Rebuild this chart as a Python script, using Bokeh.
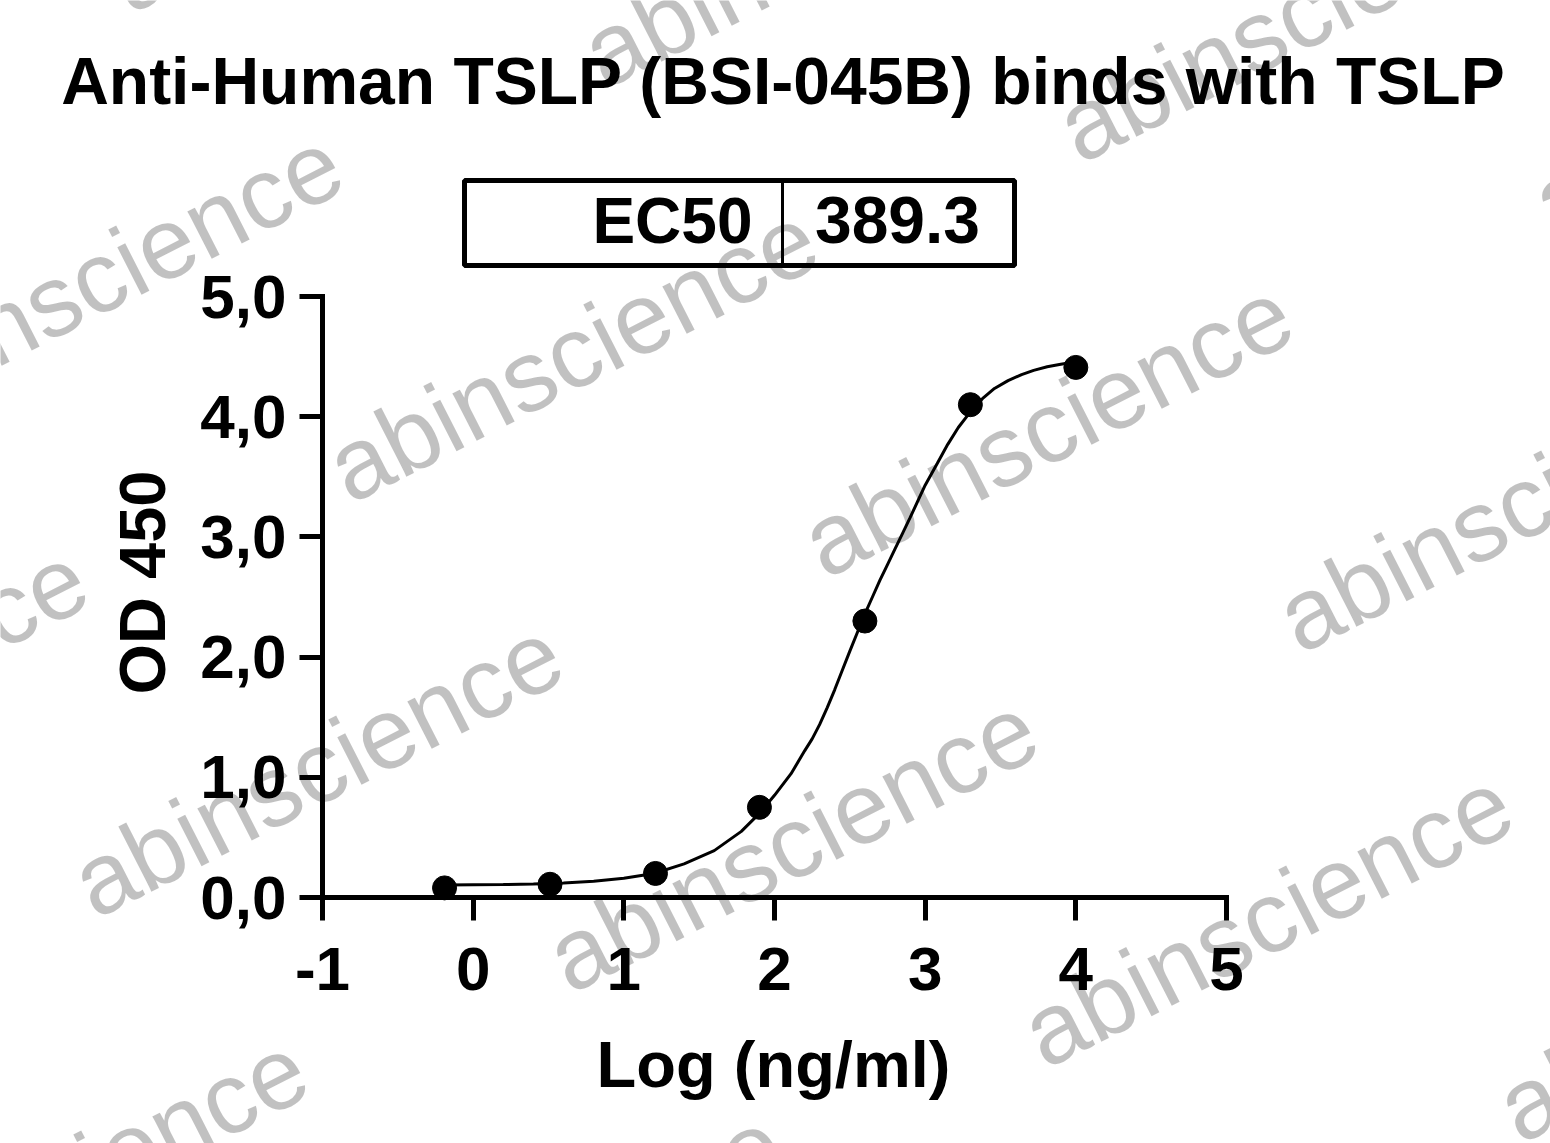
import math
from bokeh.plotting import figure
from bokeh.models import Label, FixedTicker, Range1d
from bokeh.embed import file_html
from bokeh.resources import INLINE

# ---------------- data ----------------
title_text = "Anti-Human TSLP (BSI-045B) binds with TSLP"
x_label = "Log (ng/ml)"
y_label = "OD 450"
ec50_label = "EC50"
ec50_value = "389.3"
watermark_text = "abinscience"

x_ticks = [-1, 0, 1, 2, 3, 4, 5]
x_tick_labels = ["-1", "0", "1", "2", "3", "4", "5"]
y_ticks = [0, 1, 2, 3, 4, 5]
y_tick_labels = ["0,0", "1,0", "2,0", "3,0", "4,0", "5,0"]

log_conc = [-0.19, 0.51, 1.21, 1.90, 2.60, 3.30, 4.00]
od450 = [0.08, 0.11, 0.20, 0.75, 2.30, 4.10, 4.41]

fit_x = [-0.19, 0.0, 0.2, 0.4, 0.6, 0.8, 1.0, 1.2, 1.4, 1.6, 1.78, 1.9, 2.0,
         2.11, 2.2, 2.25, 2.3, 2.35, 2.4, 2.45, 2.5, 2.55, 2.6, 2.65, 2.7,
         2.75, 2.8, 2.85, 2.9, 2.95, 3.0, 3.08, 3.15, 3.22, 3.30, 3.38, 3.46,
         3.55, 3.64, 3.72, 3.81, 3.90, 3.99]
fit_y = [0.104, 0.106, 0.108, 0.112, 0.12, 0.135, 0.16, 0.20, 0.28, 0.39,
         0.55, 0.70, 0.85, 1.03, 1.22, 1.32, 1.44, 1.58, 1.73, 1.89, 2.05,
         2.205, 2.36, 2.50, 2.64, 2.77, 2.90, 3.03, 3.16, 3.295, 3.43, 3.61,
         3.77, 3.91, 4.04, 4.15, 4.235, 4.30, 4.35, 4.385, 4.415, 4.437,
         4.455]

# ---------------- layout ----------------
W, H = 1550, 1143
AX_L, AX_R, AX_B = 322, 1226, 897      # px of x=-1, x=5, y=0
X0, X1 = -1.0, 5.0
PPX = (AX_R - AX_L) / (X1 - X0)
PPY = (897 - 296) / 5.0
BASE = 0.35                             # baseline correction (em)


def dx(px):
    return X0 + (px - AX_L) / PPX


def dy(py):
    return (AX_B - py) / PPY


FONT = "Liberation Sans"

# the frame spans the whole canvas; the axes sit at fixed data locations
p = figure(width=W, height=H,
           x_range=Range1d(dx(0), dx(W)), y_range=Range1d(dy(H), dy(0)),
           output_backend="svg", toolbar_location=None,
           min_border=0, min_border_left=0, min_border_right=0,
           min_border_top=0, min_border_bottom=0)
p.outline_line_color = None
p.xgrid.visible = False
p.ygrid.visible = False
p.background_fill_color = "white"
p.border_fill_color = "white"

# axes
p.xaxis.fixed_location = 0
p.yaxis.fixed_location = X0
p.xaxis.ticker = FixedTicker(ticks=x_ticks)
p.yaxis.ticker = FixedTicker(ticks=y_ticks)
p.xaxis.major_label_overrides = {t: l for t, l in zip(x_ticks, x_tick_labels)}
p.yaxis.major_label_overrides = {t: l for t, l in zip(y_ticks, y_tick_labels)}
p.xaxis.bounds = (X0, X1)
p.yaxis.bounds = (0, 5)
for ax in (p.xaxis, p.yaxis):
    ax.axis_line_width = 5
    ax.axis_line_color = "black"
    ax.axis_line_cap = "square"
    ax.major_tick_line_width = 5
    ax.major_tick_line_color = "black"
    ax.major_tick_out = 23
    ax.major_tick_in = 0
    ax.minor_tick_line_color = None
    ax.major_label_text_font = FONT
    ax.major_label_text_font_style = "bold"
    ax.major_label_text_font_size = "62px"
    ax.major_label_text_color = "black"
p.xaxis.major_label_standoff = 27
p.yaxis.major_label_standoff = 13

# axis titles
p.add_layout(Label(x=dx(773), y=dy(1087 - BASE * 65), text=x_label,
                   text_align="center", text_baseline="alphabetic",
                   text_font=FONT, text_font_style="bold",
                   text_font_size="65px", text_color="black"))
p.add_layout(Label(x=dx(165 - BASE * 65), y=dy(582), text=y_label,
                   angle=90, angle_units="deg", text_align="center",
                   text_baseline="alphabetic", text_font=FONT,
                   text_font_style="bold", text_font_size="65px",
                   text_color="black"))

# fitted curve and points
p.line(fit_x, fit_y, line_width=3, line_color="black")
p.scatter(log_conc, od450, size=24, fill_color="black", line_color="black")

# EC50 table box
p.quad(left=dx(464), right=dx(1014), top=dy(180), bottom=dy(265),
       fill_color=None, line_color="black", line_width=5)
p.segment(x0=dx(782), y0=dy(180), x1=dx(782), y1=dy(265),
          line_color="black", line_width=3)
p.add_layout(Label(x=dx(752), y=dy(243 - BASE * 64), text=ec50_label,
                   text_align="right", text_baseline="alphabetic",
                   text_font=FONT, text_font_style="bold",
                   text_font_size="64px", text_color="black"))
p.add_layout(Label(x=dx(897), y=dy(243 - BASE * 66), text=ec50_value,
                   text_align="center", text_baseline="alphabetic",
                   text_font=FONT, text_font_style="bold",
                   text_font_size="66px", text_color="black"))

# title
p.add_layout(Label(x=dx(783), y=dy(104 - BASE * 66), text=title_text,
                   text_align="center", text_baseline="alphabetic",
                   text_font=FONT, text_font_style="bold",
                   text_font_size="66px", text_color="black"))

# watermarks (translucent black -> light grey on white)
ang = 27.0
th = math.radians(ang)
wm_size = 101
cx, cy = BASE * wm_size * math.sin(th), BASE * wm_size * math.cos(th)
ox, oy = 350, 505
hx, hy = 475, 75
vx, vy = 255, -415
for i in range(-3, 5):
    for j in range(-3, 4):
        px = ox + i * hx + j * vx
        py = oy + i * hy + j * vy
        if -600 < px < 1600 and -50 < py < 1500:
            p.add_layout(Label(x=dx(px - cx), y=dy(py - cy), text=watermark_text,
                               angle=ang, angle_units="deg",
                               text_font=FONT, text_font_size="%dpx" % wm_size,
                               text_color="black", text_alpha=0.245,
                               text_align="left", text_baseline="alphabetic",
                               level="overlay"))

open("out.html", "w").write(file_html(p, INLINE))
